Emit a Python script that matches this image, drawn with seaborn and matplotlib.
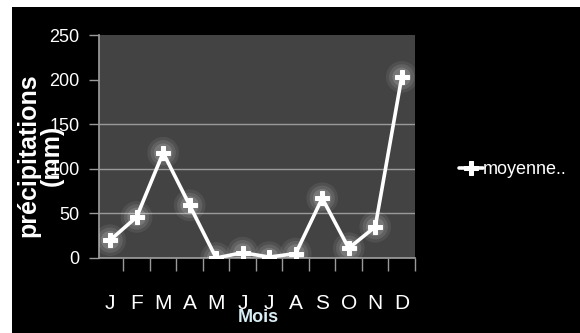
import numpy as np
import pandas as pd
import matplotlib
matplotlib.use("Agg")
import matplotlib.pyplot as plt
import seaborn as sns
from matplotlib.patches import Rectangle

# valeurs
mois = ["J", "F", "M", "A", "M", "J", "J", "A", "S", "O", "N", "D"]
moyenne = [20, 46, 118, 59, 0, 6, 1, 5, 67, 11, 35, 203]
yticks = [0, 50, 100, 150, 200, 250]

FONT = ["Liberation Sans", "DejaVu Sans"]

sns.set_theme(style="dark")
df = pd.DataFrame({"pos": np.arange(len(mois)), "moyenne": moyenne})

fig = plt.figure(figsize=(5.8, 3.33), dpi=100, facecolor="white")
# fond noir (petite marge blanche en haut et a gauche)
fig.patches.append(Rectangle((12 / 580, 0), 1, 1 - 7 / 333, transform=fig.transFigure,
                             facecolor="black", edgecolor="none", zorder=-10))

ax = fig.add_axes([99 / 580, 1 - 258 / 333, 316 / 580, 223 / 333])
ax.set_facecolor("#434343")

# halo autour des points
for s, a in [(520, 0.07), (330, 0.10), (180, 0.14)]:
    sns.scatterplot(data=df, x="pos", y="moyenne", s=s, color="white", alpha=a,
                    edgecolor="none", ax=ax, legend=False, zorder=3)
sns.lineplot(data=df, x="pos", y="moyenne", color="white", linewidth=2.6,
             marker="P", markersize=10, markeredgecolor="white", label="moyenne..",
             ax=ax, zorder=4)

ax.set_xlim(-0.42, 11.5)
ax.set_ylim(0, 250)
ax.set_yticks(yticks)
ax.set_yticklabels([str(v) for v in yticks], family=FONT, fontsize=13, color="white")
ax.set_xticks(df["pos"])
ax.set_xticklabels(mois, family=FONT, fontsize=15, color="white")
ax.set_xticks(np.arange(len(mois)) + 0.5, minor=True)
ax.tick_params(axis="x", which="major", length=0, pad=26)
ax.tick_params(axis="x", which="minor", length=9, width=1, color="#9a9a9a", bottom=True)
ax.tick_params(axis="y", length=7, width=1, color="#9a9a9a", left=True, pad=7)

ax.grid(axis="y", color="#9a9a9a", linewidth=1)
ax.grid(axis="x", visible=False)
glines = ax.yaxis.get_gridlines()
glines[4].set_visible(False)
glines[5].set_visible(False)
for side in ["top", "right"]:
    ax.spines[side].set_visible(False)
ax.spines["left"].set_color("#9a9a9a")
ax.spines["bottom"].set_color("#9a9a9a")
ax.set_xlabel("")
ax.set_ylabel("")

fig.text(258 / 580, 1 - 318 / 333, "Mois", family=FONT, fontweight="bold",
         fontsize=13, color="#d8eef5", ha="center", va="center")
fig.text(40 / 580, 1 - 155 / 333, "précipitations\n(mm)", family=FONT,
         fontweight="bold", fontsize=18, color="white", rotation=90,
         ha="center", va="center", multialignment="center", linespacing=1.0)

leg = ax.legend(loc="center left", bbox_to_anchor=(452 / 580, 1 - 170 / 333),
                bbox_transform=fig.transFigure, frameon=False, handlelength=1.3,
                handletextpad=0.0, borderaxespad=0, prop={"family": FONT, "size": 13})
for t in leg.get_texts():
    t.set_color("white")

fig.savefig("out.png", dpi=100, facecolor="white")
